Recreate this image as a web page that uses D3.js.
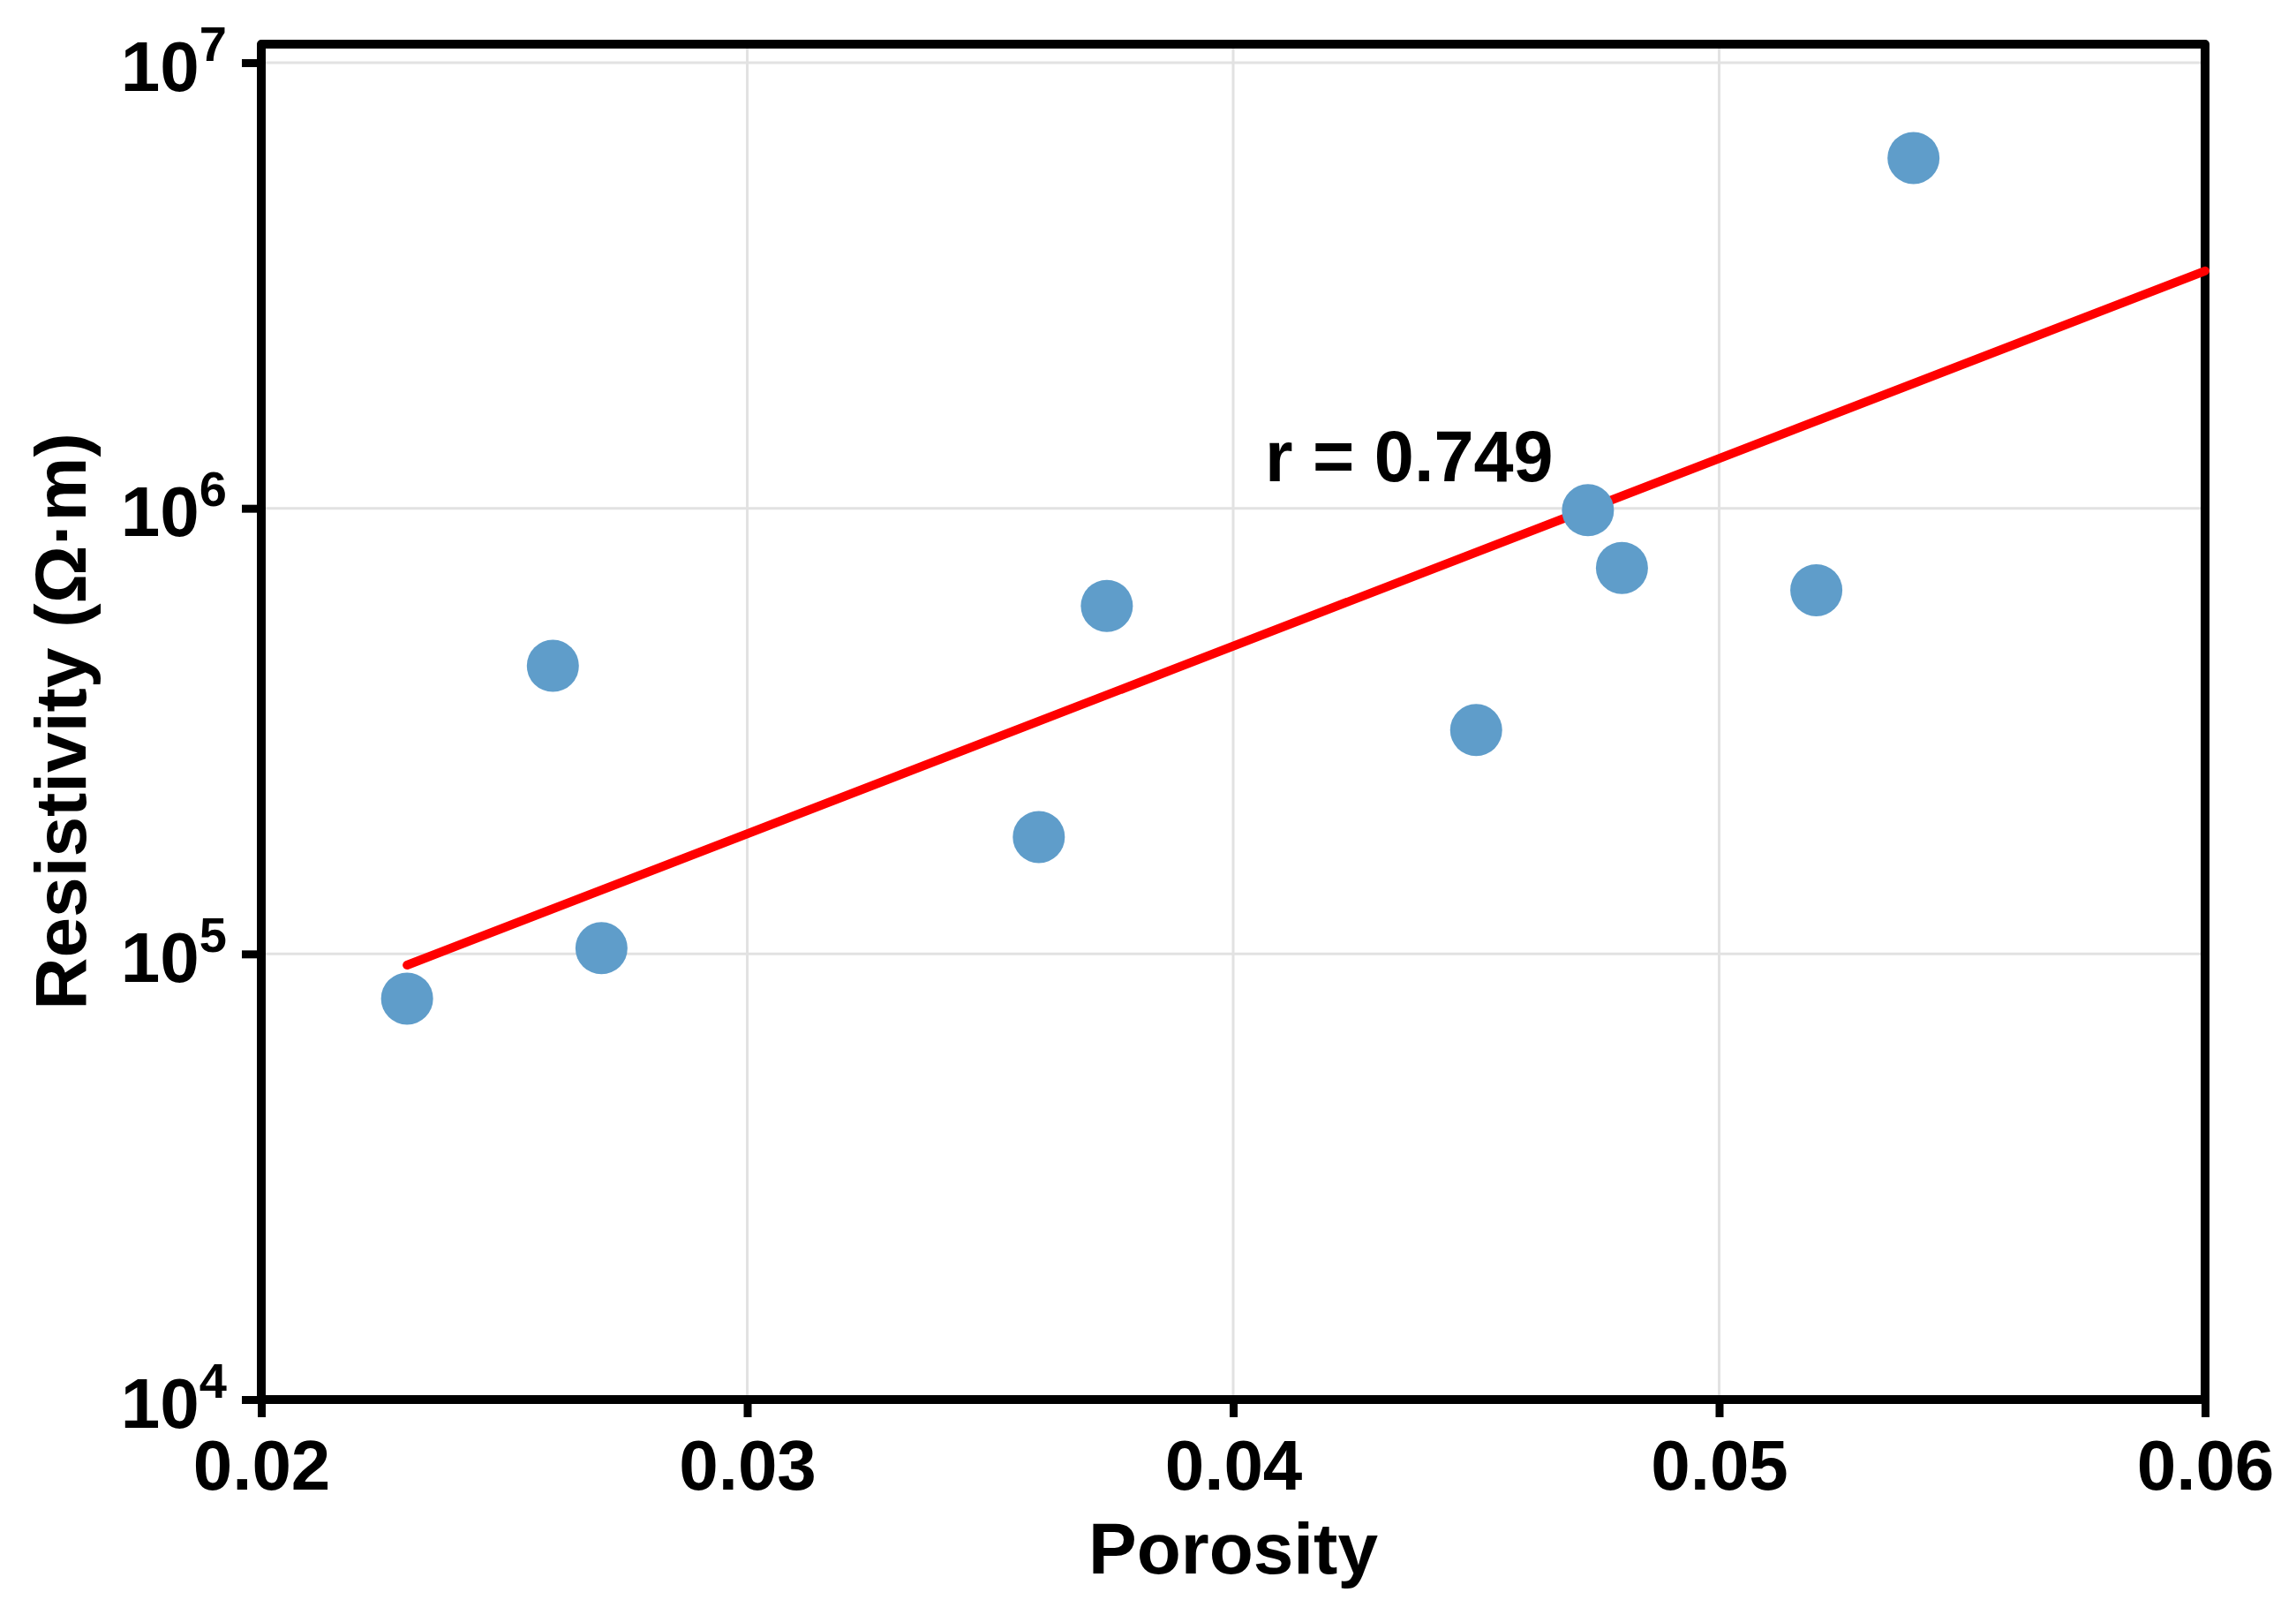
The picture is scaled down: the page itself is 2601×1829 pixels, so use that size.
<!DOCTYPE html>
<html>
<head>
<meta charset="utf-8">
<script src="https://cdn.jsdelivr.net/npm/d3@7"></script>
<style>
  html, body { margin: 0; padding: 0; background: #ffffff; }
  svg { display: block; }
  text { font-family: "Liberation Sans", Arial, Helvetica, sans-serif; font-weight: bold; fill: #000; }
</style>
</head>
<body>
<script>
// ---- data ----
const porosity    = [0.0230, 0.0260, 0.0270, 0.0360, 0.0374, 0.0450, 0.0473, 0.0480, 0.0520, 0.0540];
const resistivity = [7.94e4, 4.43e5, 1.03e5, 1.83e5, 6.04e5, 3.18e5, 9.9e5, 7.35e5, 6.55e5, 6.11e6];
const fitX = [0.023, 0.060];
const fitY = [9.44e4, 3.41e6];
const xTicks = [0.02, 0.03, 0.04, 0.05, 0.06];
const xTickLabels = ["0.02", "0.03", "0.04", "0.05", "0.06"];
const yTicks = [1e4, 1e5, 1e6, 1e7];
const yTickExponents = ["4", "5", "6", "7"];
const xTitle = "Porosity";
const yTitle = "Resistivity (\u03A9\u00B7m)";
const annotation = "r = 0.749";

// ---- layout ----
const W = 2601, H = 1829;
const left = 296, right = 2498, bottom = 1585, top10_7 = 71, frameTop = 50;

const svg = d3.select("body").append("svg").attr("width", W).attr("height", H);

const x = d3.scaleLinear().domain([0.02, 0.06]).range([left, right]);
const y = d3.scaleLog().domain([1e4, 1e7]).range([bottom, top10_7]);

// gridlines
const grid = svg.append("g");
grid.selectAll("line.vg").data(xTicks.slice(1, -1)).join("line")
  .attr("x1", d => x(d)).attr("x2", d => x(d))
  .attr("y1", frameTop).attr("y2", bottom)
  .attr("stroke", "#e2e2e2").attr("stroke-width", 3);
grid.selectAll("line.hg").data(yTicks.slice(1)).join("line")
  .attr("x1", left).attr("x2", right)
  .attr("y1", d => y(d)).attr("y2", d => y(d))
  .attr("stroke", "#e2e2e2").attr("stroke-width", 3);

// x axis
const xAxis = svg.append("g").attr("transform", `translate(0,${bottom})`)
  .call(d3.axisBottom(x).tickValues(xTicks).tickSize(20).tickSizeOuter(0)
        .tickFormat((d, i) => xTickLabels[i]));
xAxis.select(".domain").remove();
xAxis.selectAll(".tick line").attr("stroke", "#000").attr("stroke-width", 9);
xAxis.selectAll(".tick text")
  .attr("y", 102).attr("dy", 0)
  .style("font-size", "80px").style("font-weight", "bold")
  .style("font-family", "'Liberation Sans', Arial, sans-serif").attr("fill", "#000");

// y axis
const yAxis = svg.append("g").attr("transform", `translate(${left},0)`)
  .call(d3.axisLeft(y).tickValues(yTicks).tickSize(22).tickSizeOuter(0).tickFormat(() => ""));
yAxis.select(".domain").remove();
yAxis.selectAll(".tick line").attr("stroke", "#000").attr("stroke-width", 9);
yAxis.selectAll(".tick text").each(function(d, i) {
  const t = d3.select(this);
  t.text(null)
   .attr("x", -39).attr("dy", 0).attr("y", 31)
   .attr("text-anchor", "end")
   .style("font-size", "80px").style("font-weight", "bold")
   .style("font-family", "'Liberation Sans', Arial, sans-serif").attr("fill", "#000");
  t.append("tspan").text("10");
  t.append("tspan").attr("dy", -34).style("font-size", "56px").text(yTickExponents[i]);
});

// frame
svg.append("rect")
  .attr("x", left).attr("y", frameTop)
  .attr("width", right - left).attr("height", bottom - frameTop)
  .attr("fill", "none").attr("stroke", "#000").attr("stroke-width", 10)
  .attr("stroke-linejoin", "round");

// fit line
svg.append("path")
  .datum(fitX.map((v, i) => [v, fitY[i]]))
  .attr("d", d3.line().x(d => x(d[0])).y(d => y(d[1])))
  .attr("stroke", "#ff0000").attr("stroke-width", 10)
  .attr("stroke-linecap", "round").attr("fill", "none");

// points
svg.append("g").selectAll("circle")
  .data(porosity.map((v, i) => [v, resistivity[i]]))
  .join("circle")
  .attr("cx", d => x(d[0])).attr("cy", d => y(d[1])).attr("r", 29.5)
  .attr("fill", "#5f9dca");

// annotation
svg.append("text").attr("x", 1433).attr("y", 545)
  .style("font-size", "81px").text(annotation);

// axis titles
svg.append("text").attr("x", (left + right) / 2).attr("y", 1782)
  .attr("text-anchor", "middle").style("font-size", "82px").text(xTitle);
svg.append("text")
  .attr("transform", `translate(97,817) rotate(-90)`)
  .attr("text-anchor", "middle").style("font-size", "82px").text(yTitle);
</script>
</body>
</html>
